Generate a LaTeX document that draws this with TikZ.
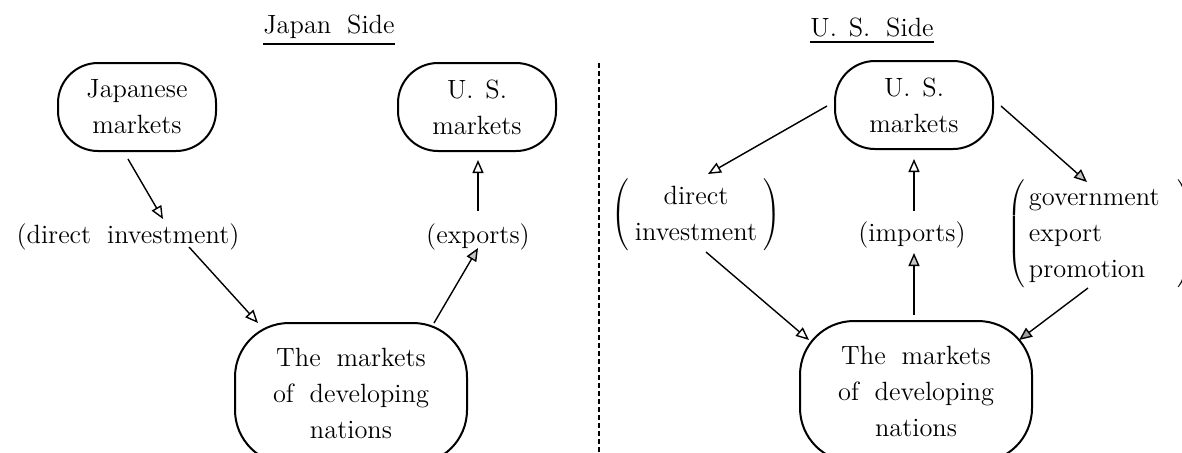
\documentclass[tikz,border=0pt]{standalone}
\usetikzlibrary{arrows.meta}
\newcommand*{\diagfont}{\fontsize{13.2}{18}\selectfont\spaceskip 0.6em plus 0.1em\relax}
\newcommand*{\US}{U.\hspace{0.45em}S.}
\tikzstyle{txt} = [font=\diagfont, align=center, inner sep=0pt]
\tikzstyle{sidetitle} = [txt, inner ysep=2.5pt]
\tikzstyle{market} = [txt, draw, line width=1pt, rounded corners=20pt, minimum width=79pt, minimum height=44pt]
\tikzstyle{devbox} = [txt, draw, line width=1pt, rounded corners=27pt, minimum width=116pt, minimum height=70.5pt]
\tikzstyle{flow} = [-{Triangle[open, length=6.5pt, width=5.5pt]}, line width=0.7pt]
\tikzstyle{flowgray} = [-{Triangle[length=6.5pt, width=5.5pt, fill=gray!45]}, line width=0.7pt]
\tikzstyle{flowdark} = [-{Triangle[length=6.5pt, width=5.5pt, fill=gray!75]}, line width=0.7pt]

\begin{document}
\begin{tikzpicture}[x=0.5pt, y=-0.5pt]
    \useasboundingbox (0,0) rectangle (1182,452);
    \clip (0,0) rectangle (1182,452);

    % Japan side.
    \node (ttlJ) [sidetitle] at (329,27) {Japan Side};
    \draw [line width=1pt] (ttlJ.south west) -- (ttlJ.south east);

    \node (jpmkt) [market] at (137,107) {Japanese\\markets};
    \node (usmktL) [market] at (477,107) {\US\\markets};
    \node (invL) [txt] at (128,237) {(direct investment)};
    \node (expL) [txt] at (478,237) {(exports)};
    \node (devL) [devbox] at (351,393.5) {The markets\\of developing\\nations};

    \draw [flow] ([shift={(-9,52)}]jpmkt.center) -- ([shift={(35,-18)}]invL.center);
    \draw [flow] ([shift={(61,10)}]invL.center) -- ([shift={(-93,-70.5)}]devL.center);
    \draw [flowgray] ([shift={(83,-70.5)}]devL.center) -- ([shift={(0,11)}]expL.center);
    \draw [flow] ([shift={(0,-26)}]expL.center) -- ([shift={(1,53)}]usmktL.center);

    % Divider.
    \draw [line width=0.8pt, dash pattern=on 2.5pt off 1.5pt] (599,63) -- (599,452);

    % U. S. side.
    \node (ttlU) [sidetitle] at (872,27) {\US\ Side};
    \draw [line width=1pt] (ttlU.south west) -- (ttlU.south east);

    \node (usmktR) [market] at (914,105) {\US\\markets};
    \node (invR) [txt] at (696,215) {$\left(\begin{tabular}{@{\hspace{3pt}}c@{\hspace{3pt}}}direct\\investment\end{tabular}\right)$};
    \node (impR) [txt] at (912,235) {(imports)};
    \node (govR) [txt, anchor=west] at (1007,234) {$\left(\begin{tabular}{@{\hspace{2pt}}l@{\hspace{9pt}}}government\\export\\promotion\end{tabular}\right)$};
    \node (devR) [devbox] at (916,391.5) {The markets\\of developing\\nations};

    \draw [flow] ([shift={(-87,1)}]usmktR.center) -- ([shift={(12,-41)}]invR.center);
    \draw [flowgray] ([shift={(87,1)}]usmktR.center) -- ([shift={(80,-52)}]govR.west);
    \draw [flow] ([shift={(2,-24)}]impR.center) -- ([shift={(0,54)}]usmktR.center);
    \draw [flow] ([shift={(10,37)}]invR.center) -- ([shift={(-107,-51.5)}]devR.center);
    \draw [flowgray] ([shift={(-2,-76.5)}]devR.center) -- ([shift={(2,18)}]impR.center);
    \draw [flowdark] ([shift={(81,54)}]govR.west) -- ([shift={(103,-51.5)}]devR.center);
\end{tikzpicture}
\end{document}
